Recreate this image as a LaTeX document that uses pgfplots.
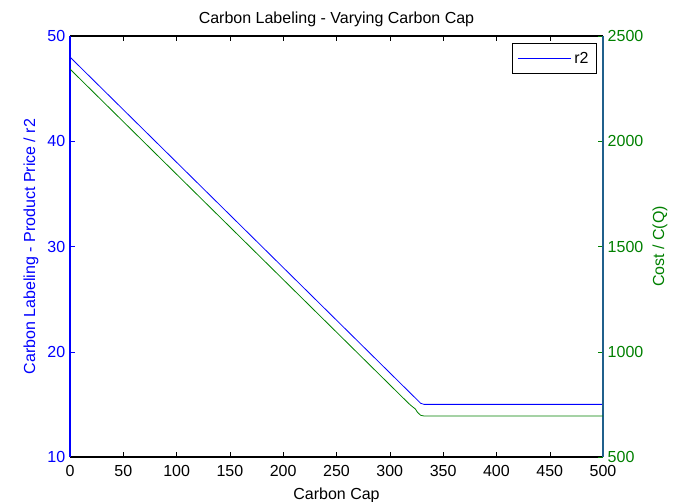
\documentclass[border=0pt]{standalone}
\usepackage{fontspec}
\setmainfont{Liberation Sans}
\usepackage{pgfplots}
\pgfplotsset{compat=1.18}
\definecolor{mblue}{RGB}{0,0,255}
\definecolor{mgreen}{RGB}{0,128,0}
\definecolor{raxis}{RGB}{32,96,140}

\pgfplotsset{
  twin/.style={
    scale only axis, width=399.75pt, height=315.75pt,
    xmin=0, xmax=500,
    tick align=inside,
    major tick length=3.75pt,
    /pgf/number format/assume math mode=true,
    /pgf/number format/1000 sep={},
    every axis plot/.append style={line width=0.6pt},
  }
}

\begin{document}
\begin{tikzpicture}[font=\fontsize{12}{14}\selectfont]
\path[use as bounding box] (-52.5pt,-33.75pt) rectangle (456pt,342.75pt);

\begin{axis}[
  twin,
  ymin=10, ymax=50,
  xtick distance=50, ytick distance=10,
  separate axis lines,
  x axis line style={black, line width=0.8pt},
  y axis line style={mblue, line width=1.2pt},
  ytick pos=left,
  xtick style={black},
  ytick style={mblue},
  xticklabel style={yshift=-2.5pt},
  yticklabel style={mblue},
  ylabel style={mblue},
  xlabel style={yshift=-2pt},
  title style={yshift=-2.5pt},
  ylabel={Carbon Labeling - Product Price / r2},
  xlabel={Carbon Cap},
  title={Carbon Labeling - Varying Carbon Cap},
  legend style={at={(rel axis cs:0.9887,0.9834)}, anchor=north east,
    draw=black, line width=0.6pt, inner xsep=4pt, inner ysep=4.5pt,
    font=\fontsize{12}{14}\selectfont},
  legend image code/.code={\draw[#1] (0pt,0pt) -- (40pt,0pt);},
]
\addplot[mblue] coordinates {
  (0,48) (327,15.3) (329,15.1) (332,15) (500,15)
};
\addlegendentry{r2}
\end{axis}

\begin{axis}[
  twin,
  ymin=500, ymax=2500,
  ytick distance=500,
  axis x line=none,
  axis y line*=right,
  y axis line style={raxis, line width=1.2pt},
  ytick style={mgreen},
  yticklabel style={mgreen},
  ylabel style={mgreen},
  ylabel={Cost / C(Q)},
]
\addplot[mgreen] coordinates {
  (0,2343) (318,753) (321,740) (324,728) (326,712) (329,698) (332,695) (500,695)
};
\end{axis}
\end{tikzpicture}
\end{document}
